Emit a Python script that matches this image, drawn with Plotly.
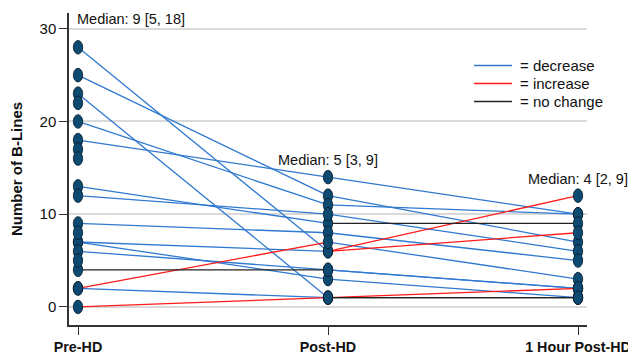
import plotly.graph_objects as go

# ---- data ----
time_labels = ["Pre-HD", "Post-HD", "1 Hour Post-HD"]
pre_vals  = [28, 25, 23, 20, 18, 13, 12, 9, 7, 7, 6, 4, 2, 2, 0]
post_vals = [6, 12, 1, 11, 14, 9, 10, 8, 6, 3, 4, 4, 7, 1, 1]
hour_vals = [12, 7, 1, 10, 10, 9, 6, 5, 8, 1, 2, 2, 3, 2, 1]
pre_only_vals = [22, 17, 16, 8, 5]
median_texts = ["Median: 9 [5, 18]", "Median: 5 [3, 9]", "Median: 4 [2, 9]"]
median_y = [31.1, 15.9, 13.8]
legend_keys = ["dec", "inc", "same"]
legend_names = {"dec": "= decrease", "inc": "= increase", "same": "= no change"}
colors = {"dec": "#3079d0", "inc": "#ff1a1a", "same": "#222222"}

fig = go.Figure()

# group segments by change type
segs = {"dec": ([], []), "inc": ([], []), "same": ([], [])}
for p, q, h in zip(pre_vals, post_vals, hour_vals):
    for (x0, y0), (x1, y1) in [((0, p), (1, q)), ((1, q), (2, h))]:
        k = "dec" if y1 < y0 else ("inc" if y1 > y0 else "same")
        segs[k][0].extend([x0, x1, None])
        segs[k][1].extend([y0, y1, None])

for k in legend_keys:
    fig.add_trace(go.Scatter(x=segs[k][0], y=segs[k][1], mode="lines",
                             line=dict(color=colors[k], width=1.3),
                             showlegend=False, hoverinfo="skip"))

# elliptical markers as pixel-sized shapes anchored on data
shapes = []
all_pts = [(0, v) for v in pre_vals + pre_only_vals] + \
          [(1, v) for v in post_vals] + [(2, v) for v in hour_vals]
for xi, yv in all_pts:
    shapes.append(dict(type="circle", xref="x", yref="y",
                       xsizemode="pixel", ysizemode="pixel",
                       xanchor=xi, yanchor=yv,
                       x0=-4.7, x1=4.7, y0=-6.8, y1=6.8,
                       fillcolor="#0c4a72", line=dict(color="#0a1a2a", width=0.8),
                       layer="above"))

annotations = []
for i, (t, yy) in enumerate(zip(median_texts, median_y)):
    annotations.append(dict(x=i, y=yy, xref="x", yref="y", text=t, showarrow=False,
                            xanchor="left" if i == 0 else "center",
                            xshift=-3 if i == 0 else 0,
                            font=dict(size=14.5, color="#111111")))

# manual legend (swatches + labels) in paper coordinates
leg_x0, leg_x1, leg_tx = 0.7819, 0.8552, 0.8668
leg_rows = [0.8317, 0.7740, 0.7163]
for k, yy in zip(legend_keys, leg_rows):
    shapes.append(dict(type="line", xref="paper", yref="paper",
                       x0=leg_x0, x1=leg_x1, y0=yy, y1=yy,
                       line=dict(color=colors[k], width=1.3)))
    annotations.append(dict(x=leg_tx, y=yy, xref="paper", yref="paper",
                            text=legend_names[k], showarrow=False,
                            xanchor="left", yanchor="middle",
                            font=dict(size=15, color="#111111")))

# page body has an 8px margin; size the figure to fill the remaining window
fig.update_layout(
    width=628, height=348,
    margin=dict(l=61, r=49, t=5, b=31),
    paper_bgcolor="white", plot_bgcolor="white",
    font=dict(family="Liberation Sans, Arial, sans-serif", color="#111111"),
    shapes=shapes, annotations=annotations,
    showlegend=False,
    xaxis=dict(range=[-0.036, 2.036], tickvals=[0, 1, 2],
               ticktext=["<b>%s</b>" % s for s in time_labels],
               showgrid=False, zeroline=False, showline=True, linecolor="#333333",
               linewidth=1.5, ticks="outside", ticklen=8, tickcolor="#333333",
               tickfont=dict(size=14.3), automargin=False, fixedrange=True),
    yaxis=dict(range=[-1.95, 31.7], tickvals=[0, 10, 20, 30],
               showgrid=True, gridcolor="#d9d9d9", gridwidth=2,
               zeroline=False, showline=True, linecolor="#333333", linewidth=1.5,
               ticks="outside", ticklen=8, tickcolor="#333333",
               tickfont=dict(size=15), automargin=False,
               title=dict(text="<b>Number of B-Lines</b>", font=dict(size=15), standoff=18)),
)

fig.write_html("out.html")
